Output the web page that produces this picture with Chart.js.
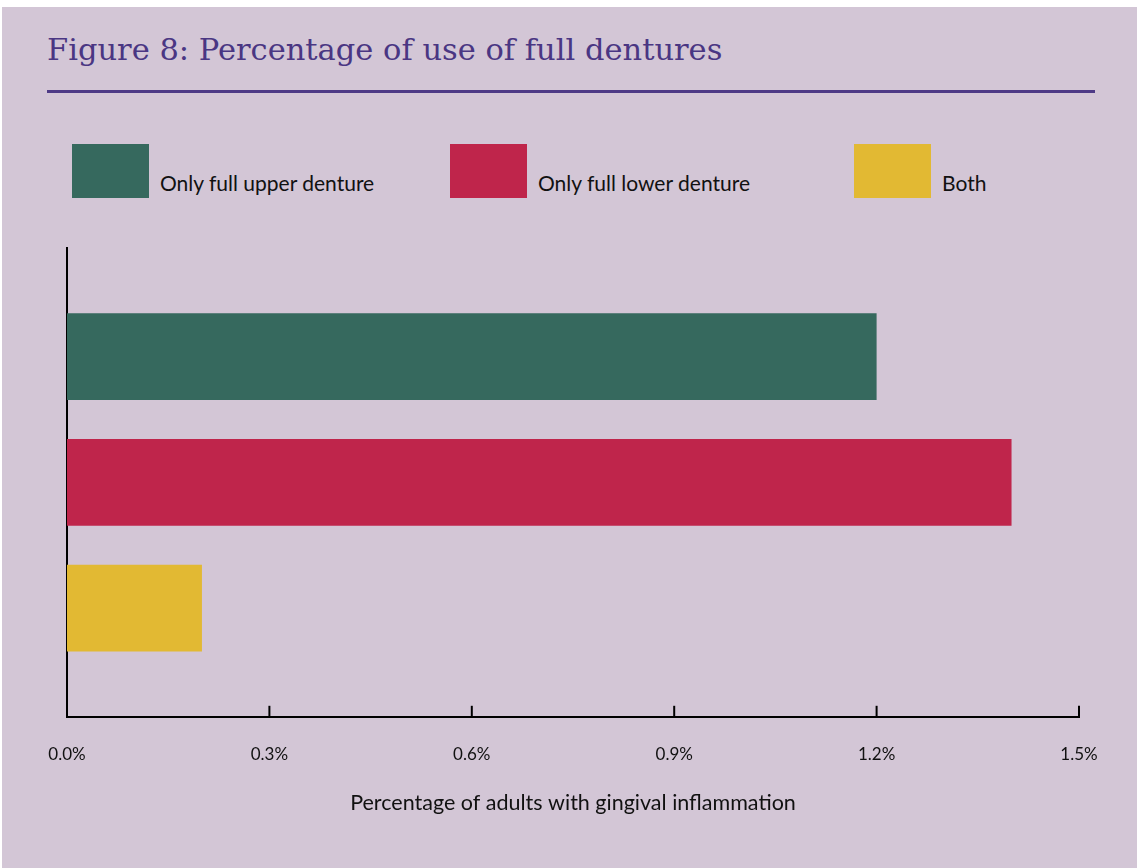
<!DOCTYPE html>
<html>
<head>
<meta charset="utf-8">
<script src="https://cdn.jsdelivr.net/npm/chart.js@4"></script>
<style>
    body { margin: 0; background: #fff; width: 1137px; height: 868px; overflow: hidden; }
    #page { position: absolute; left: 2px; top: 7px; right: 0; bottom: 0; background: #d3c6d6; }
    #title { position: absolute; left: 47px; top: 35px; margin: 0; font-family: "DejaVu Serif", serif; font-weight: normal;
             font-size: 30.5px; line-height: 30.5px; color: #4a3683; white-space: nowrap; }
    #rule { position: absolute; left: 47px; top: 90px; width: 1048px; height: 3px; background: #4e3a86; }
    #legend { position: absolute; left: 0; top: 144px; height: 54px; width: 100%; }
    .item { position: absolute; top: 0; display: flex; align-items: flex-end; height: 54px; }
    .item:nth-child(1) { left: 72px; }
    .item:nth-child(2) { left: 450px; }
    .item:nth-child(3) { left: 854px; }
    .box { width: 77px; height: 54px; }
    .label { margin-left: 11px; font-family: Lato, sans-serif; font-size: 21px; line-height: 21px; color: #111; padding-bottom: 5px; white-space: nowrap; }
    #wrap { position: absolute; left: 0; top: 220px; width: 1137px; height: 648px; }
</style>
</head>
<body>
<div id="page"></div>
<h1 id="title">Figure 8: Percentage of use of full dentures</h1>
<div id="rule"></div>
<div id="legend"></div>
<div id="wrap"><canvas id="chart"></canvas></div>

<script>
// ====== DATA ======
const seriesNames = ['Only full upper denture', 'Only full lower denture', 'Both'];
const seriesValues = [1.2, 1.4, 0.2];
const seriesColors = ['#36695e', '#bf254b', '#e2b933'];
const tickValues = [0, 0.3, 0.6, 0.9, 1.2, 1.5];
const axisTitle = 'Percentage of adults with gingival inflammation';

// ====== LEGEND (html) ======
const legend = document.getElementById('legend');
legend.innerHTML = seriesNames.map((name, i) =>
    `<div class="item"><div class="box" style="background:${seriesColors[i]}"></div><span class="label">${name}</span></div>`
).join('');

// draws the small tick marks pointing up into the plot
const innerTicks = {
    id: 'innerTicks',
    afterDraw(chart) {
        const scale = chart.scales.x;
        const ctx = chart.ctx;
        const bottom = chart.chartArea.bottom;
        ctx.save();
        ctx.strokeStyle = '#000';
        ctx.lineWidth = 2;
        scale.ticks.forEach((t, i) => {
            const x = scale.getPixelForTick(i);
            ctx.beginPath();
            ctx.moveTo(x, bottom - 11);
            ctx.lineTo(x, bottom);
            ctx.stroke();
        });
        ctx.restore();
    }
};

const datasets = seriesNames.map((name, i) => ({
    label: name,
    data: [seriesValues[i]],
    backgroundColor: seriesColors[i],
    borderWidth: 0,
    categoryPercentage: 0.805,
    barPercentage: 0.69
}));

new Chart(document.getElementById('chart'), {
    type: 'bar',
    data: { labels: [''], datasets },
    options: {
        indexAxis: 'y',
        responsive: true,
        maintainAspectRatio: false,
        animation: false,
        layout: { padding: { top: 28, left: 67, right: 58, bottom: 52 } },
        plugins: { legend: { display: false }, tooltip: { enabled: false } },
        scales: {
            x: {
                min: 0,
                max: 1.5,
                afterBuildTicks: scale => { scale.ticks = tickValues.map(v => ({ value: v })); },
                grid: { display: false, drawTicks: false, tickLength: 0 },
                border: { display: true, color: '#000', width: 2 },
                ticks: {
                    padding: 28,
                    color: '#111',
                    font: { family: 'Lato', size: 17 },
                    callback: v => v.toFixed(1) + '%'
                },
                title: {
                    display: true,
                    text: axisTitle,
                    color: '#111',
                    font: { family: 'Lato', size: 21.5 },
                    padding: { top: -3, bottom: 0 }
                }
            },
            y: {
                grid: { display: false, drawTicks: false, tickLength: 0 },
                border: { display: true, color: '#000', width: 2 },
                ticks: { display: false }
            }
        }
    },
    plugins: [innerTicks]
});
</script>
</body>
</html>
